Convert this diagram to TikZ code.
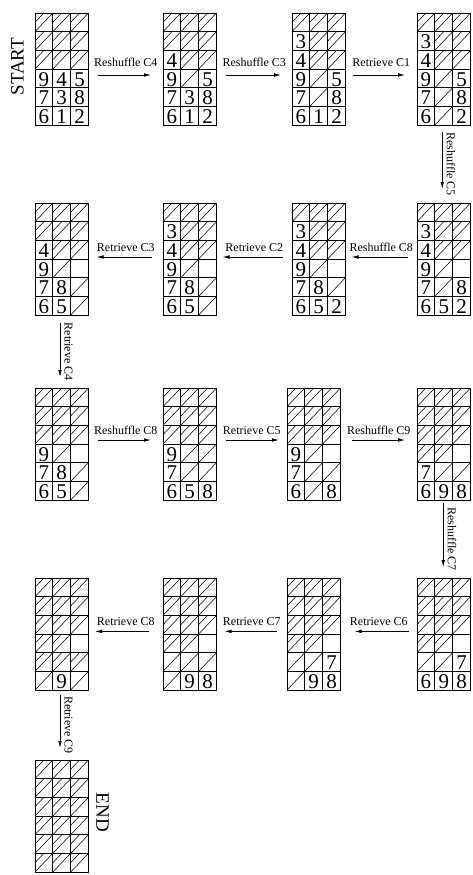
\documentclass[tikz,border=0pt]{standalone}
\usepackage{fontspec}
\setmainfont{Liberation Serif}
\usetikzlibrary{arrows.meta,calc}

\tikzset{
  gridbox/.style={draw, line width=0.9pt, minimum width=53.5pt, minimum height=112pt, inner sep=0pt, outer sep=0pt},
  cellline/.style={line width=0.7pt},
  hatchline/.style={line width=0.55pt},
  digit/.style={font=\fontsize{21}{21}\selectfont, inner sep=0pt, anchor=base},
  arr/.style={line width=0.8pt, -{Latex[length=7pt,width=3.6pt]}},
  lbl/.style={font=\fontsize{12}{12}\selectfont, inner sep=0pt},
  bigword/.style={font=\fontsize{19}{19}\selectfont, inner sep=0pt},
}

\newcommand{\cw}{17.83}
\newcommand{\chh}{18.67}

\newcommand{\gridat}[4]{%
  \node[gridbox, anchor=north west] (#1) at (#2,#3) {};
  \foreach \cv [count=\ii from 0] in {#4} {%
    \pgfmathtruncatemacro\rr{\ii/3}%
    \pgfmathtruncatemacro\kk{mod(\ii,3)}%
    \pgfmathsetmacro\xa{#2+\kk*\cw}%
    \pgfmathsetmacro\xb{\xa+\cw}%
    \pgfmathsetmacro\xm{\xa+\cw/2}%
    \pgfmathsetmacro\yt{#3-\rr*\chh}%
    \pgfmathsetmacro\yb{\yt-\chh}%
    \pgfmathsetmacro\ym{\yt-\chh/2}%
    \draw[cellline] (\xa,\yt) rectangle (\xb,\yb);
    \if\cv h\draw[hatchline] (\xa,\yb) -- (\xb,\yt) (\xa,\ym) -- (\xm,\yt);\else
    \if\cv s\draw[hatchline] (\xa,\yb) -- (\xb,\yt);\else
    \if\cv e\else
    \node[digit] (#1-\ii) at (\xm,\yb+1.6) {\cv};\fi\fi\fi
  }%
}

\begin{document}
\begin{tikzpicture}[x=1pt,y=1pt]
\useasboundingbox (0,0) rectangle (472,-875);

% row 1
\gridat{g1}{35}{-13}{h,h,h,h,h,h,h,h,h,9,4,5,7,3,8,6,1,2}
\gridat{g2}{163}{-13}{h,h,h,h,h,h,4,h,h,9,s,5,7,3,8,6,1,2}
\gridat{g3}{292}{-13}{h,h,h,3,h,h,4,h,h,9,s,5,7,s,8,6,1,2}
\gridat{g4}{417}{-13}{h,h,h,3,h,h,4,h,h,9,s,5,7,s,8,6,s,2}
% row 2
\gridat{g5}{417}{-203}{h,h,h,3,h,h,4,h,h,9,s,e,7,s,8,6,5,2}
\gridat{g6}{292}{-203}{h,h,h,3,h,h,4,h,h,9,s,e,7,8,s,6,5,2}
\gridat{g7}{163}{-203}{h,h,h,3,h,h,4,h,h,9,s,e,7,8,s,6,5,s}
\gridat{g8}{35}{-203}{h,h,h,h,h,h,4,h,h,9,s,e,7,8,s,6,5,s}
% row 3
\gridat{g9}{35}{-388}{h,h,h,h,h,h,h,h,h,9,s,e,7,8,s,6,5,s}
\gridat{g10}{163}{-388}{h,h,h,h,h,h,h,h,h,9,s,s,7,s,s,6,5,8}
\gridat{g11}{287}{-388}{h,h,h,h,h,h,h,h,h,9,s,e,7,s,s,6,s,8}
\gridat{g12}{417}{-388}{h,h,h,h,h,h,h,h,h,h,h,e,7,s,s,6,9,8}
% row 4
\gridat{g13}{417}{-578}{h,h,h,h,h,h,h,h,h,h,h,e,s,s,7,6,9,8}
\gridat{g14}{287}{-578}{h,h,h,h,h,h,h,h,h,h,h,e,s,s,7,s,9,8}
\gridat{g15}{163}{-578}{h,h,h,h,h,h,h,h,h,h,h,e,s,s,s,s,9,8}
\gridat{g16}{35}{-578}{h,h,h,h,h,h,h,h,h,h,h,e,h,h,h,s,9,s}
% row 5
\gridat{g17}{35}{-760}{h,h,h,h,h,h,h,h,h,h,h,h,h,h,h,h,h,h}

% START / END
\node[bigword, rotate=90] (startlbl) at (17.5,-66.7) {START};
\node[bigword, rotate=-90] (endlbl) at (102.5,-812.5) {END};

% row 1 arrows (rightwards)
\draw[arr, shorten <=9pt, shorten >=12pt] ([yshift=-6pt]g1.east) -- node (l1) [lbl, above=7.7pt] {Reshuffle C4} ([yshift=-6pt]g2.west);
\draw[arr, shorten <=9pt, shorten >=11pt] ([yshift=-6pt]g2.east) -- node (l2) [lbl, above=7.7pt] {Reshuffle C3} ([yshift=-6pt]g3.west);
\draw[arr, shorten <=7pt, shorten >=12pt] ([yshift=-6pt]g3.east) -- node (l3) [lbl, above=7.7pt] {Retrieve C1} ([yshift=-6pt]g4.west);
% vertical 1
\draw[arr, shorten <=6.5pt, shorten >=14pt] ([xshift=-1.5pt]g4.south) -- node (l4) [lbl, sloped, above=4pt] {Reshuffle C5} ([xshift=-1.5pt]g5.north);
% row 2 arrows (leftwards)
\draw[arr, shorten <=9pt, shorten >=6pt] ([yshift=2pt]g5.west) -- node (l5) [lbl, above=4.6pt] {Reshuffle C8} ([yshift=2pt]g6.east);
\draw[arr, shorten <=9pt, shorten >=6pt] ([yshift=2pt]g6.west) -- node (l6) [lbl, above=4.6pt] {Retrieve C2} ([yshift=2pt]g7.east);
\draw[arr, shorten <=11pt, shorten >=8pt] ([yshift=2pt]g7.west) -- node (l7) [lbl, above=4.6pt] {Retrieve C3} ([yshift=2pt]g8.east);
% vertical 2
\draw[arr, shorten <=8pt, shorten >=11pt] ([xshift=-1.75pt]g8.south) -- node (l8) [lbl, sloped, above=4pt] {Retrieve C4} ([xshift=-1.75pt]g9.north);
% row 3 arrows (rightwards)
\draw[arr, shorten <=9pt, shorten >=12pt] ([yshift=4pt]g9.east) -- node (l9) [lbl, above=5pt] {Reshuffle C8} ([yshift=4pt]g10.west);
\draw[arr, shorten <=9pt, shorten >=8pt] ([yshift=4pt]g10.east) -- node (l10) [lbl, above=5pt] {Retrieve C5} ([yshift=4pt]g11.west);
\draw[arr, shorten <=11pt, shorten >=12pt] ([yshift=4pt]g11.east) -- node (l11) [lbl, above=5pt] {Reshuffle C9} ([yshift=4pt]g12.west);
% vertical 3
\draw[arr, shorten <=3pt, shorten >=11pt] ([xshift=-0.5pt]g12.south) -- node (l12) [lbl, sloped, above=4pt] {Reshuffle C7} ([xshift=-0.5pt]g13.north);
% row 4 arrows (leftwards)
\draw[arr, shorten <=8pt, shorten >=14pt] ([yshift=2.6pt]g13.west) -- node (l13) [lbl, above=5pt] {Retrieve C6} ([yshift=2.6pt]g14.east);
\draw[arr, shorten <=10pt, shorten >=8pt] ([yshift=2.6pt]g14.west) -- node (l14) [lbl, above=5pt] {Retrieve C7} ([yshift=2.6pt]g15.east);
\draw[arr, shorten <=14pt, shorten >=6.5pt] ([yshift=2.6pt]g15.west) -- node (l15) [lbl, above=5pt] {Retrieve C8} ([yshift=2.6pt]g16.east);
% vertical 4
\draw[arr, shorten <=4.7pt, shorten >=12pt] ([xshift=-1.75pt]g16.south) -- node (l16) [lbl, sloped, above=4pt] {Retrieve C9} ([xshift=-1.75pt]g17.north);
\end{tikzpicture}
\end{document}
